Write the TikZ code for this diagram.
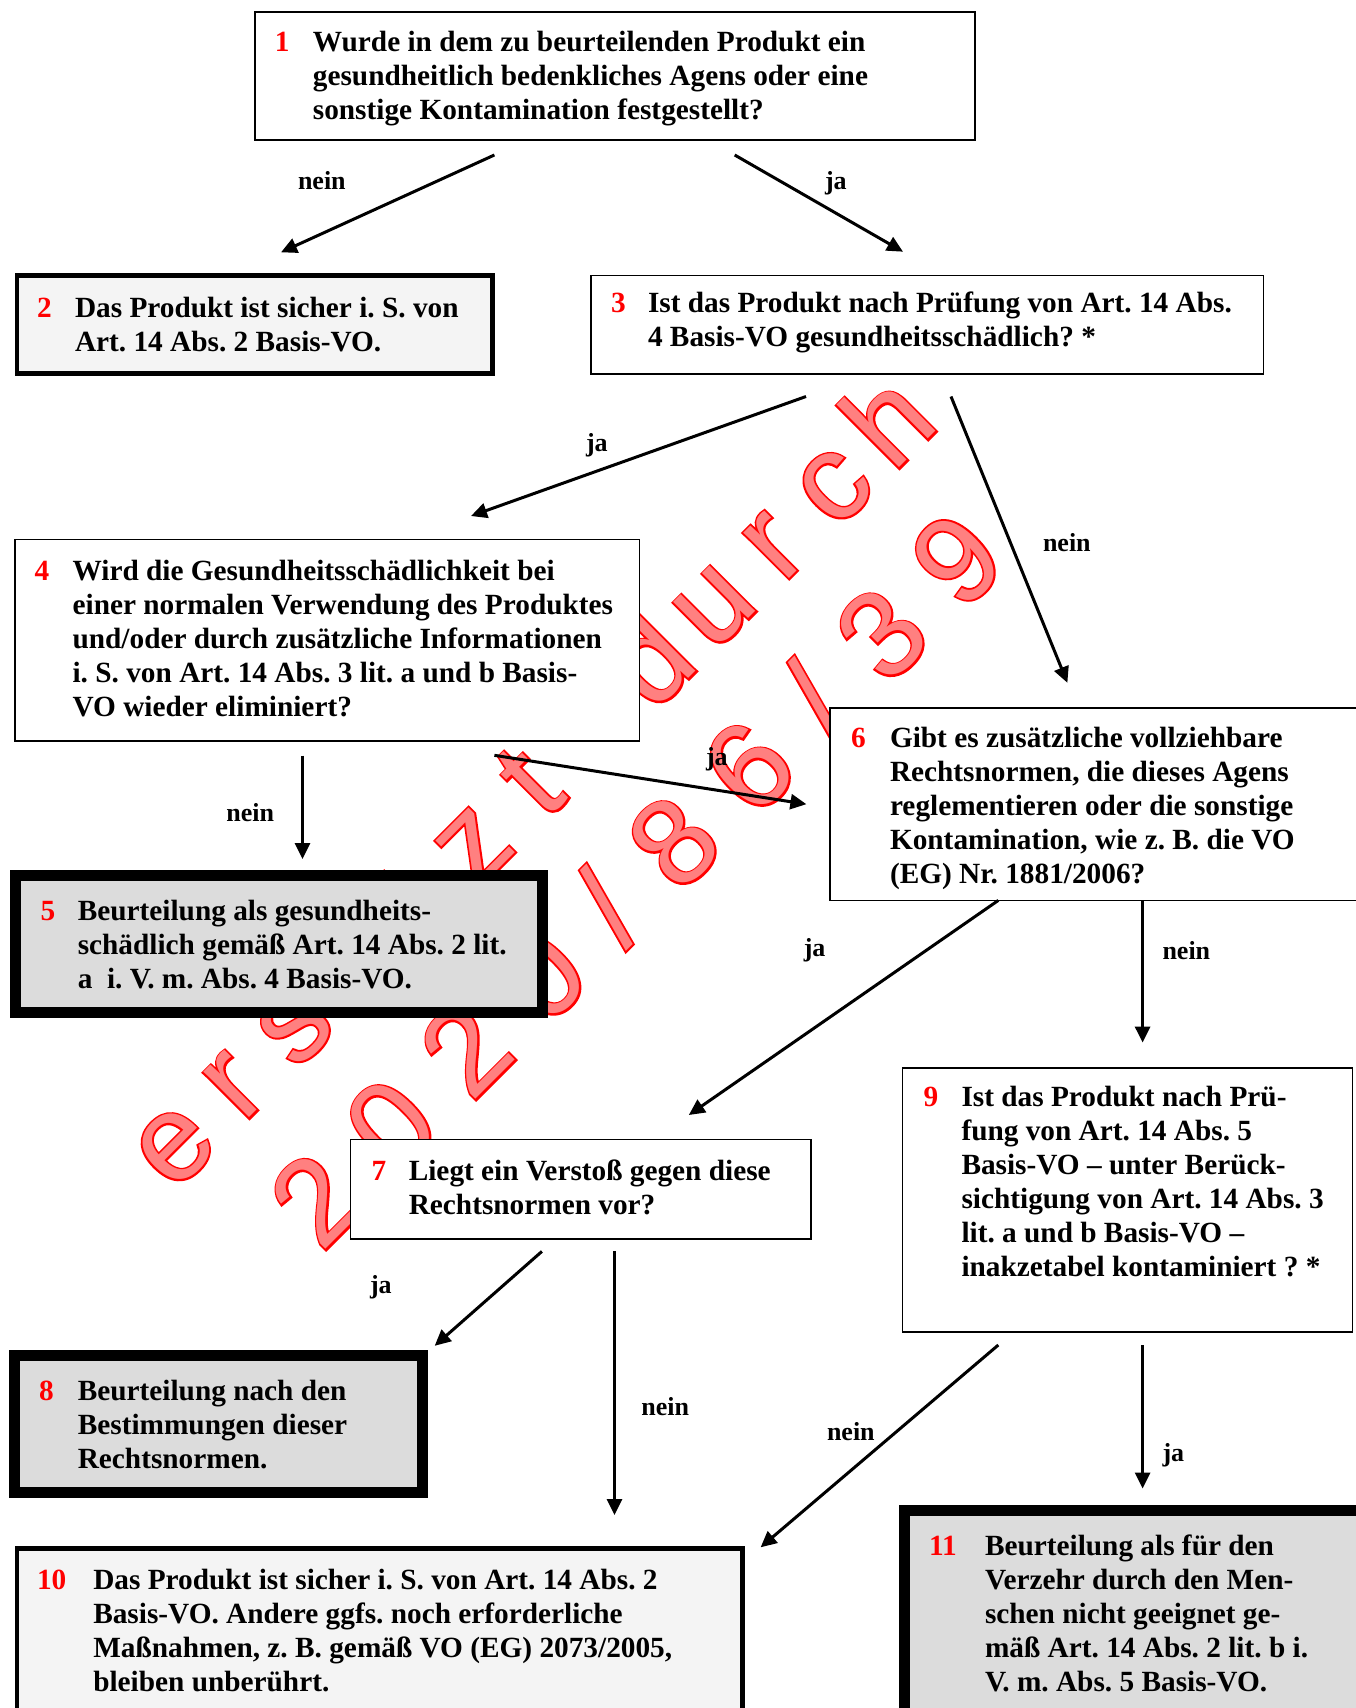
\documentclass[tikz,border=0pt]{standalone}
\usepackage{fontspec}
\setmainfont{Liberation Serif}
\newfontfamily\wmfont{Liberation Sans}
\newfontfamily\wmfontB[FakeBold=3]{Liberation Sans}
\usetikzlibrary{arrows.meta}
\definecolor{wmpink}{RGB}{255,128,128}
\definecolor{wmred}{RGB}{255,0,0}
\definecolor{numred}{RGB}{255,0,0}
\definecolor{lightfill}{RGB}{244,244,244}
\definecolor{darkfill}{RGB}{220,220,220}
\newcommand\lines[1]{\begin{tabular}[t]{@{}l@{}}#1\end{tabular}}
\newcommand\wmc[4]{%
  \node[wmback] (#1b) at ({(#3+#4)/sqrt(2)},{(#4-#3)/sqrt(2)}) {#2};
  \node[wmfront] (#1) at ({(#3+#4)/sqrt(2)},{(#4-#3)/sqrt(2)}) {#2};}
\tikzset{
  wmfront/.style={font=\wmfont\fontsize{122}{122}\selectfont, text=wmpink, rotate=45, anchor=base, inner sep=0pt, outer sep=0pt},
  wmback/.style={font=\wmfontB\fontsize{122}{122}\selectfont, text=wmred, rotate=45, anchor=base, inner sep=0pt, outer sep=0pt},
  thinbox/.style={draw=black, line width=1.6pt, fill=white, inner sep=0pt, outer sep=0pt, anchor=north west},
  thickbox/.style={draw=black, line width=4.5pt, fill=lightfill, inner sep=0pt, outer sep=0pt, anchor=north west},
  heavybox/.style={draw=black, line width=11pt, fill=darkfill, inner sep=0pt, outer sep=0pt, anchor=north west},
  numtxt/.style={anchor=base west, inner sep=0pt, outer sep=0pt, text=numred, font=\bfseries\fontsize{29.3}{34}\selectfont},
  boxtxt/.style={anchor=base west, inner sep=0pt, outer sep=0pt, font=\frenchspacing\bfseries\fontsize{29.3}{34}\selectfont},
  lbl/.style={anchor=base west, inner sep=0pt, outer sep=0pt, font=\bfseries\fontsize{26}{30}\selectfont},
  arr/.style={line width=3pt, -{Triangle[length=16pt,width=15pt]}}
}
\begin{document}
\frenchspacing
\begin{tikzpicture}[x=1pt,y=-1pt]
\useasboundingbox (0,0) rectangle (1355,1708);
\fill[white] (0,0) rectangle (1355,1708);
% watermark line 1
\wmc{wa1}{e}{-687}{967}
\wmc{wa2}{r}{-602.2}{967}
\wmc{wa3}{s}{-517.4}{967}
\wmc{wa4}{e}{-432.6}{967}
\wmc{wa5}{t}{-347.8}{967}
\wmc{wa6}{z}{-263}{967}
\wmc{wa7}{t}{-178.2}{967}
\wmc{wa8}{d}{-8.6}{967}
\wmc{wa9}{u}{76.2}{967}
\wmc{wa10}{r}{161}{967}
\wmc{wa11}{c}{245.8}{967}
\wmc{wa12}{h}{330.6}{967}
% watermark line 2
\wmc{wb1}{2}{-625}{1114}
\wmc{wb2}{0}{-519}{1114}
\wmc{wb3}{2}{-413}{1114}
\wmc{wb4}{0}{-307}{1114}
\wmc{wb5}{/}{-213}{1114}
\wmc{wb6}{8}{-119}{1114}
\wmc{wb7}{6}{-13}{1114}
\wmc{wb8}{/}{81}{1114}
\wmc{wb9}{3}{175}{1114}
\wmc{wb10}{9}{281}{1114}
% boxes
\node[thinbox, minimum width=720pt, minimum height=128pt] (b1) at (255,12) {};
\node[thickbox, minimum width=475.7pt, minimum height=98.2pt] (b2) at (17,275.5) {};
\node[thinbox, minimum width=672.5pt, minimum height=98.5pt] (b3) at (591,275.5) {};
\node[thinbox, minimum width=624.9pt, minimum height=201.5pt] (b4) at (14.7,539.3) {};
\node[heavybox, minimum width=526.6pt, minimum height=137pt] (b5) at (15.9,875.2) {};
\node[thinbox, minimum width=540pt, minimum height=192.4pt] (b6) at (830,708) {};
\node[thinbox, minimum width=460.2pt, minimum height=99.4pt] (b7) at (350.5,1139.4) {};
\node[heavybox, minimum width=407.8pt, minimum height=136.3pt] (b8) at (14.3,1355.7) {};
\node[thinbox, minimum width=450pt, minimum height=264pt] (b9) at (902.5,1068) {};
\node[thickbox, minimum width=725.7pt, minimum height=200pt] (b10) at (17,1548.6) {};
\node[heavybox, minimum width=470pt, minimum height=250pt] (b11) at (904.5,1510.8) {};
% box texts
\node[numtxt] (n1) at (274.8,51.7) {1};
\node[boxtxt] (t1) at (312.9,51.7) {\lines{Wurde in dem zu beurteilenden Produkt ein\\gesundheitlich bedenkliches Agens oder eine\\sonstige Kontamination festgestellt?}};
\node[numtxt] (n2) at (37,317) {2};
\node[boxtxt] (t2) at (75,317) {\lines{Das Produkt ist sicher i. S. von\\Art. 14 Abs. 2 Basis-VO.}};
\node[numtxt] (n3) at (611,312.7) {3};
\node[boxtxt] (t3) at (648,312.7) {\lines{Ist das Produkt nach Prüfung von Art. 14 Abs.\\4 Basis-VO gesundheitsschädlich? *}};
\node[numtxt] (n4) at (34.6,580.3) {4};
\node[boxtxt] (t4) at (72.6,580.3) {\lines{Wird die Gesundheitsschädlichkeit bei\\einer normalen Verwendung des Produktes\\und/oder durch zusätzliche Informationen\\i. S. von Art. 14 Abs. 3 lit. a und b Basis-\\VO wieder eliminiert?}};
\node[numtxt] (n5) at (40.6,920.3) {5};
\node[boxtxt] (t5) at (77.8,920.3) {\lines{Beurteilung als gesundheits-\\schädlich gemäß Art. 14 Abs. 2 lit.\\a~ i. V. m. Abs. 4 Basis-VO.}};
\node[numtxt] (n6) at (851,747.4) {6};
\node[boxtxt] (t6) at (890,747.4) {\lines{Gibt es zusätzliche vollziehbare\\Rechtsnormen, die dieses Agens\\reglementieren oder die sonstige\\Kontamination, wie z. B. die VO\\(EG) Nr. 1881/2006?}};
\node[numtxt] (n7) at (371.6,1180) {7};
\node[boxtxt] (t7) at (408.8,1180) {\lines{Liegt ein Verstoß gegen diese\\Rechtsnormen vor?}};
\node[numtxt] (n8) at (39,1400.4) {8};
\node[boxtxt] (t8) at (77.8,1400.4) {\lines{Beurteilung nach den\\Bestimmungen dieser\\Rechtsnormen.}};
\node[numtxt] (n9) at (923.7,1106.7) {9};
\node[boxtxt] (t9) at (961.5,1106.7) {\lines{Ist das Produkt nach Prü-\\fung von Art. 14 Abs. 5\\Basis-VO – unter Berück-\\sichtigung von Art. 14 Abs. 3\\lit. a und b Basis-VO –\\inakzetabel kontaminiert ? *}};
\node[numtxt] (n10) at (37,1589.2) {10};
\node[boxtxt] (t10) at (93.3,1589.2) {\lines{Das Produkt ist sicher i. S. von Art. 14 Abs. 2\\Basis-VO. Andere ggfs. noch erforderliche\\Maßnahmen, z. B. gemäß VO (EG) 2073/2005,\\bleiben unberührt.}};
\node[numtxt] (n11) at (929,1555.7) {11};
\node[boxtxt] (t11) at (985,1555.7) {\lines{Beurteilung als für den\\Verzehr durch den Men-\\schen nicht geeignet ge-\\mäß Art. 14 Abs. 2 lit. b i.\\V. m. Abs. 5 Basis-VO.}};
% arrow end points
\coordinate (a12s) at (494.4,155);   \coordinate (a12e) at (281,252.3);
\coordinate (a13s) at (734.7,155);   \coordinate (a13e) at (903,251.7);
\coordinate (a34s) at (806,396.5);   \coordinate (a34e) at (471,516);
\coordinate (a36s) at (951,396.5);   \coordinate (a36e) at (1067.4,682.8);
\coordinate (a45s) at (302.5,755.7); \coordinate (a45e) at (302.5,859);
\coordinate (a46s) at (494.4,755.3); \coordinate (a46e) at (806.4,804.2);
\coordinate (a67s) at (998.3,900.4); \coordinate (a67e) at (688.8,1115);
\coordinate (a69s) at (1142.6,900.4); \coordinate (a69e) at (1142.6,1042.6);
\coordinate (a78s) at (541.9,1251.4); \coordinate (a78e) at (434.7,1345.8);
\coordinate (a710s) at (614.5,1251.4); \coordinate (a710e) at (614.5,1515);
\coordinate (a910s) at (998.3,1345); \coordinate (a910e) at (760.6,1547.3);
\coordinate (a911s) at (1142.6,1345); \coordinate (a911e) at (1142.6,1488.5);
\draw[arr] (a12s) -- (a12e);
\draw[arr] (a13s) -- (a13e);
\draw[arr] (a34s) -- (a34e);
\draw[arr] (a36s) -- (a36e);
\draw[arr] (a45s) -- (a45e);
\draw[arr] (a46s) -- (a46e);
\draw[arr] (a67s) -- (a67e);
\draw[arr] (a69s) -- (a69e);
\draw[arr] (a78s) -- (a78e);
\draw[arr] (a710s) -- (a710e);
\draw[arr] (a910s) -- (a910e);
\draw[arr] (a911s) -- (a911e);
% labels
\node[lbl] (l12) at (298,189) {nein};
\node[lbl] (l13) at (825,189) {ja};
\node[lbl] (l34) at (586,451) {ja};
\node[lbl] (l36) at (1043,551) {nein};
\node[lbl] (l45) at (226.4,821) {nein};
\node[lbl] (l46) at (706,765) {ja};
\node[lbl] (l67) at (803.8,956) {ja};
\node[lbl] (l69) at (1162.5,959.7) {nein};
\node[lbl] (l78) at (370,1293) {ja};
\node[lbl] (l710) at (641.3,1415) {nein};
\node[lbl] (l910) at (827,1440) {nein};
\node[lbl] (l911) at (1162.5,1461) {ja};
\end{tikzpicture}
\end{document}
